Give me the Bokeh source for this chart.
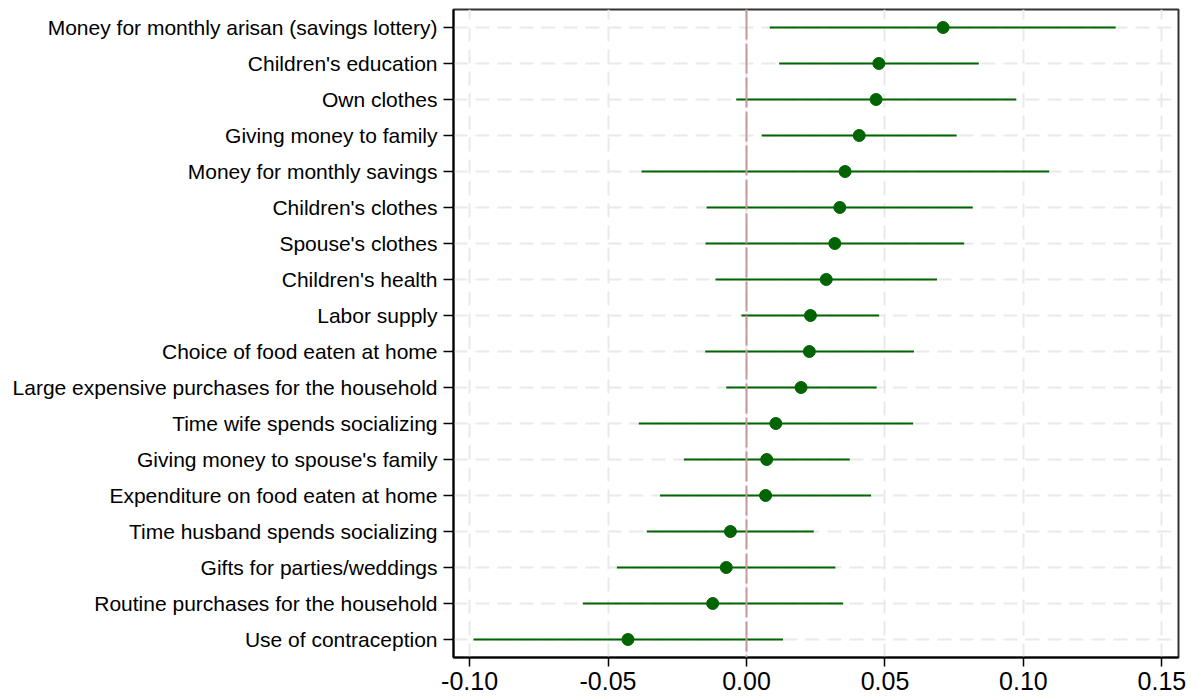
from bokeh.plotting import figure
from bokeh.models import Range1d, FactorRange, FixedTicker, Span, ColumnDataSource
from bokeh.embed import file_html
from bokeh.resources import INLINE

categories = [
    "Money for monthly arisan (savings lottery)",
    "Children's education",
    "Own clothes",
    "Giving money to family",
    "Money for monthly savings",
    "Children's clothes",
    "Spouse's clothes",
    "Children's health",
    "Labor supply",
    "Choice of food eaten at home",
    "Large expensive purchases for the household",
    "Time wife spends socializing",
    "Giving money to spouse's family",
    "Expenditure on food eaten at home",
    "Time husband spends socializing",
    "Gifts for parties/weddings",
    "Routine purchases for the household",
    "Use of contraception",
]
estimate = [0.0710, 0.0478, 0.0468, 0.0407, 0.0356, 0.0337, 0.0319, 0.0288, 0.0231,
            0.0227, 0.0197, 0.0106, 0.0073, 0.0069, -0.0058, -0.0073, -0.0122, -0.0428]
ci_low = [0.0084, 0.0118, -0.0037, 0.0055, -0.0379, -0.0144, -0.0148, -0.0112, -0.0018,
          -0.0149, -0.0073, -0.0389, -0.0226, -0.0312, -0.0360, -0.0468, -0.0591, -0.0986]
ci_high = [0.1333, 0.0839, 0.0974, 0.0759, 0.1093, 0.0817, 0.0786, 0.0688, 0.0479,
           0.0605, 0.0470, 0.0602, 0.0373, 0.0450, 0.0243, 0.0321, 0.0349, 0.0132]
x_ticks = [-0.10, -0.05, 0.00, 0.05, 0.10, 0.15]
x_tick_labels = ["-0.10", "-0.05", "0.00", "0.05", "0.10", "0.15"]

src = ColumnDataSource(dict(cat=categories, est=estimate, lo=ci_low, hi=ci_high))

p = figure(width=1190, height=700, output_backend="svg", toolbar_location=None,
           y_range=FactorRange(factors=list(reversed(categories))),
           x_range=Range1d(-0.1058, 0.156),
           min_border_left=453, min_border_right=12, min_border_top=9, min_border_bottom=43)

p.background_fill_color = "white"
p.border_fill_color = "white"
p.outline_line_color = "#333333"
p.outline_line_width = 2

# grids
p.xgrid.ticker = FixedTicker(ticks=x_ticks)
p.xgrid.grid_line_color = "#e9e9e9"
p.xgrid.grid_line_width = 2
p.xgrid.grid_line_dash = "14 8"
p.ygrid.grid_line_color = "#e9e9e9"
p.ygrid.grid_line_width = 2
p.ygrid.grid_line_dash = "14 8"

# zero line
p.add_layout(Span(location=0, dimension="height", line_color="#c49a9a",
                  line_width=2, line_dash="30 4"))

p.segment(x0="lo", y0="cat", x1="hi", y1="cat", source=src,
          line_color="#006400", line_width=2.2)
p.scatter(x="est", y="cat", source=src, size=12,
          fill_color="#006400", line_color="#006400")

# axes
p.xaxis.ticker = FixedTicker(ticks=x_ticks)
p.xaxis.major_label_overrides = {t: l for t, l in zip(x_ticks, x_tick_labels)}
p.xaxis.major_label_text_font = "Liberation Sans"
p.xaxis.major_label_text_font_size = "25px"
p.xaxis.major_label_text_color = "black"
p.xaxis.major_tick_out = 9
p.xaxis.major_tick_in = 0
p.xaxis.minor_tick_line_color = None
p.xaxis.major_label_standoff = 5
p.xaxis.axis_line_color = "black"
p.xaxis.axis_line_width = 2
p.xaxis.major_tick_line_color = "black"
p.xaxis.major_tick_line_width = 1.5

p.yaxis.major_label_text_font = "Liberation Sans"
p.yaxis.major_label_text_font_size = "21px"
p.yaxis.major_label_text_color = "black"
p.yaxis.major_tick_out = 10
p.yaxis.major_tick_in = 0
p.yaxis.major_label_standoff = 6
p.yaxis.axis_line_color = "black"
p.yaxis.axis_line_width = 2
p.yaxis.major_tick_line_color = "black"
p.yaxis.major_tick_line_width = 1.5

open("out.html", "w").write(file_html(p, INLINE))
